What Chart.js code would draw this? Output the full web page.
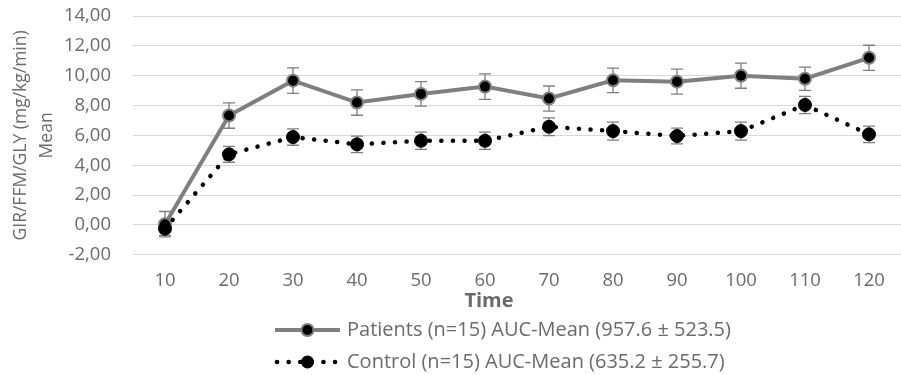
<!DOCTYPE html>
<html>
<head>
<meta charset="utf-8">
<script src="https://cdn.jsdelivr.net/npm/chart.js@4.4.1/dist/chart.umd.min.js"></script>
<style>
  html, body { margin: 0; padding: 0; background: #fff; }
  #wrap { width: 901px; height: 375px; position: relative; }
</style>
</head>
<body>
<div id="wrap"><canvas id="gir-chart"></canvas></div>
<script>
// values
const timeLabels = ['10', '20', '30', '40', '50', '60', '70', '80', '90', '100', '110', '120'];
const patientsMean = [0.05, 7.33, 9.67, 8.2, 8.78, 9.27, 8.47, 9.69, 9.6, 10.0, 9.8, 11.2];
const patientsErr = [0.85, 0.85, 0.85, 0.85, 0.82, 0.85, 0.84, 0.82, 0.84, 0.84, 0.78, 0.84];
const controlMean = [-0.25, 4.73, 5.89, 5.4, 5.64, 5.64, 6.58, 6.29, 5.96, 6.29, 8.04, 6.07];
const controlErr = [0.45, 0.53, 0.55, 0.55, 0.58, 0.58, 0.6, 0.6, 0.53, 0.6, 0.58, 0.55];
const seriesNames = ['Patients (n=15) AUC-Mean (957.6 \u00b1 523.5)', 'Control (n=15) AUC-Mean (635.2 \u00b1 255.7)'];
const yTitle = ['GIR/FFM/GLY (mg/kg/min)', 'Mean'];
const xTitle = 'Time';
const yMin = -2, yMax = 14, yStep = 2;

const FONT = "'Open Sans', sans-serif";
const TEXT_GREY = '#6b6b6b';
const LINE_GREY = '#7f7f7f';

// error bars, drawn under the markers
const errorBars = {
  id: 'errorBars',
  beforeDatasetsDraw(chart) {
    const ctx = chart.ctx;
    const y = chart.scales.y;
    chart.data.datasets.forEach((ds, i) => {
      const meta = chart.getDatasetMeta(i);
      ctx.save();
      ctx.strokeStyle = LINE_GREY;
      ctx.lineWidth = 1.3;
      meta.data.forEach((pt, j) => {
        const v = ds.data[j], e = ds.errors[j];
        const top = y.getPixelForValue(v + e);
        const bot = y.getPixelForValue(v - e);
        ctx.beginPath();
        ctx.moveTo(pt.x, top); ctx.lineTo(pt.x, bot);
        ctx.moveTo(pt.x - 6, top); ctx.lineTo(pt.x + 6, top);
        ctx.moveTo(pt.x - 6, bot); ctx.lineTo(pt.x + 6, bot);
        ctx.stroke();
      });
      ctx.restore();
    });
  }
};

// x title and the two-row legend below the axis
const bottomText = {
  id: 'bottomText',
  afterDraw(chart) {
    const ctx = chart.ctx;
    ctx.save();
    ctx.fillStyle = TEXT_GREY;
    ctx.textBaseline = 'middle';
    ctx.textAlign = 'center';
    ctx.font = "bold 20px " + FONT;
    ctx.fillText(xTitle, 489, 301);

    const x0 = 275, x1 = 340, xm = (x0 + x1) / 2, tx = 347;
    const rows = [330, 362];
    ctx.textAlign = 'left';
    ctx.font = "20px " + FONT;

    // patients
    ctx.strokeStyle = LINE_GREY;
    ctx.lineWidth = 4;
    ctx.beginPath(); ctx.moveTo(x0, rows[0]); ctx.lineTo(x1, rows[0]); ctx.stroke();
    ctx.fillStyle = '#000';
    ctx.lineWidth = 2;
    ctx.beginPath(); ctx.arc(xm, rows[0], 6, 0, Math.PI * 2); ctx.fill(); ctx.stroke();
    ctx.fillStyle = TEXT_GREY;
    ctx.fillText(seriesNames[0], tx, rows[0]);

    // control
    ctx.strokeStyle = '#000';
    ctx.lineWidth = 4.5;
    ctx.lineCap = 'round';
    ctx.setLineDash([0.1, 11.5]);
    ctx.beginPath(); ctx.moveTo(x0 + 2, rows[1]); ctx.lineTo(x1, rows[1]); ctx.stroke();
    ctx.setLineDash([]);
    ctx.fillStyle = '#000';
    ctx.beginPath(); ctx.arc(xm, rows[1], 6.5, 0, Math.PI * 2); ctx.fill();
    ctx.fillStyle = TEXT_GREY;
    ctx.fillText(seriesNames[1], tx, rows[1]);
    ctx.restore();
  }
};

const ctx = document.getElementById('gir-chart').getContext('2d');
new Chart(ctx, {
  type: 'line',
  data: {
    labels: timeLabels,
    datasets: [
      {
        label: seriesNames[1],
        data: controlMean,
        errors: controlErr,
        borderColor: '#000',
        borderWidth: 4.5,
        borderDash: [0.1, 11.5],
        borderCapStyle: 'round',
        pointStyle: 'circle',
        pointRadius: 6.5,
        pointBackgroundColor: '#000',
        pointBorderColor: '#000',
        pointBorderWidth: 1,
        tension: 0
      },
      {
        label: seriesNames[0],
        data: patientsMean,
        errors: patientsErr,
        borderColor: LINE_GREY,
        borderWidth: 4,
        pointStyle: 'circle',
        pointRadius: 6,
        pointBackgroundColor: '#000',
        pointBorderColor: LINE_GREY,
        pointBorderWidth: 2,
        tension: 0
      }
    ]
  },
  options: {
    responsive: true,
    maintainAspectRatio: false,
    animation: false,
    layout: { autoPadding: false, padding: { left: 6, right: 0, top: 16, bottom: 68 } },
    plugins: {
      legend: { display: false },
      tooltip: { enabled: false }
    },
    scales: {
      x: {
        offset: true,
        grid: { display: false, drawTicks: false, tickLength: 0 },
        border: { display: false },
        ticks: { color: TEXT_GREY, font: { family: FONT, size: 18.5 }, padding: 15, maxRotation: 0 }
      },
      y: {
        min: yMin,
        max: yMax,
        afterFit: s => { s.width = 127; s.paddingTop = 0; s.paddingBottom = 0; },
        grid: { color: '#d9d9d9', lineWidth: 1, drawTicks: false, tickLength: 0 },
        border: { display: false },
        ticks: {
          stepSize: yStep,
          color: TEXT_GREY,
          font: { family: FONT, size: 18.5 },
          padding: 22,
          callback: v => v.toFixed(2).replace('.', ',')
        },
        title: {
          display: true,
          text: yTitle,
          color: TEXT_GREY,
          font: { family: FONT, size: 17.5, lineHeight: 1.43 },
          padding: { top: 3, bottom: 0 }
        }
      }
    }
  },
  plugins: [errorBars, bottomText]
});
</script>
</body>
</html>
